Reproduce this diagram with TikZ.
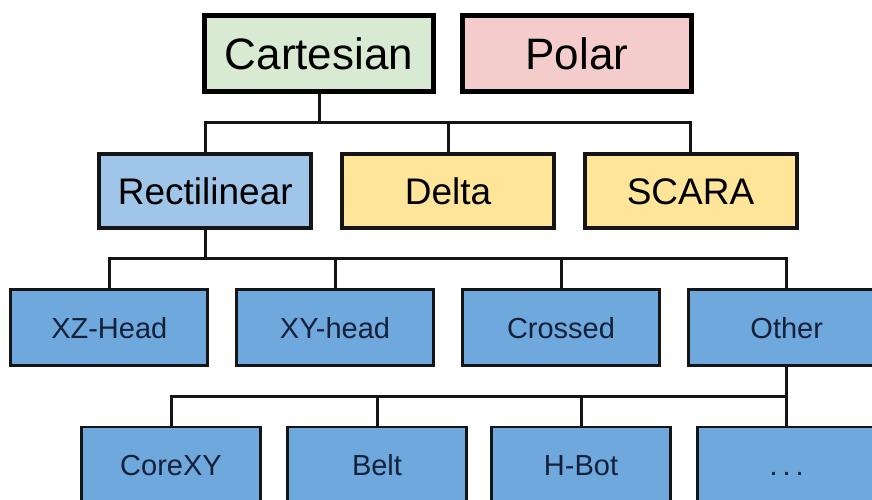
\documentclass[tikz,border=0pt]{standalone}
\usepackage{fontspec}
\setmainfont{Liberation Sans}
\definecolor{cartfill}{HTML}{D9EAD3}
\definecolor{polfill}{HTML}{F4CCCC}
\definecolor{rectfill}{HTML}{9FC5E8}
\definecolor{yelfill}{HTML}{FFE599}
\definecolor{lowfill}{HTML}{6FA8DC}
\definecolor{lowtext}{HTML}{15213A}
\definecolor{edge}{HTML}{151515}
\begin{document}
\begin{tikzpicture}[x=1pt,y=-1pt,
  box/.style={draw=edge, rectangle, inner sep=0pt, text depth=0pt, align=center},
  topbox/.style={box, draw=black, line width=5pt, minimum width=229pt, minimum height=76pt,
    text height=31.7pt, font=\fontsize{44}{50}\selectfont},
  midbox/.style={box, line width=4pt, minimum width=212pt, minimum height=74pt,
    text height=26.6pt, font=\fontsize{37}{44}\selectfont},
  lowbox/.style={box, line width=2.7pt, minimum width=197pt, minimum height=76pt,
    text height=20.9pt, font=\fontsize{29}{34}\selectfont, fill=lowfill, text=lowtext},
  botbox/.style={lowbox, minimum width=179pt},
  wire/.style={draw=edge, line width=3pt}
]
\useasboundingbox (0,0) rectangle (872,499);
\fill[white] (0,0) rectangle (872,499);
\clip (0,0) rectangle (872,499);

\coordinate (b1) at (0,122.3);
\coordinate (b2) at (0,258.3);
\coordinate (b3) at (0,396.7);

% row 1
\node[topbox, fill=cartfill] (cart) at (319,53.5) {Cartesian};
\node[topbox, fill=polfill] (polar) at (577,53.5) {Polar};
% row 2
\node[midbox, fill=rectfill] (rect) at (205.3,191) {Rectilinear};
\node[midbox, fill=yelfill] (delta) at (448,191) {Delta};
\node[midbox, fill=yelfill] (scara) at (690.5,191) {SCARA};
% row 3
\node[lowbox] (xz) at (109.3,327.8) {XZ-Head};
\node[lowbox] (xy) at (335,327.8) {XY-head};
\node[lowbox] (crossed) at (561,327.8) {Crossed};
\node[lowbox] (other) at (786.7,327.8) {Other};
% row 4
\node[botbox] (corexy) at (171,465) {CoreXY};
\node[botbox] (belt) at (377,465) {Belt};
\node[botbox] (hbot) at (581,465) {H-Bot};
\node[botbox] (dots) at (786.7,465) {.\hspace{0.17em}.\hspace{0.17em}.};

% connectors
\draw[wire] (cart.south) -- (cart.south |- b1);
\draw[wire] (rect.north) |- (b1 -| scara.north) -- (scara.north);
\draw[wire] (delta.north) -- (delta.north |- b1);

\draw[wire] (rect.south) -- (rect.south |- b2);
\draw[wire] (xz.north) |- (b2 -| other.north) -- (other.north);
\draw[wire] (xy.north) -- (xy.north |- b2);
\draw[wire] (crossed.north) -- (crossed.north |- b2);

\draw[wire] (other.south) -- (dots.north);
\draw[wire] (corexy.north) |- (b3 -| dots.north);
\draw[wire] (belt.north) -- (belt.north |- b3);
\draw[wire] (hbot.north) -- (hbot.north |- b3);
\end{tikzpicture}
\end{document}
